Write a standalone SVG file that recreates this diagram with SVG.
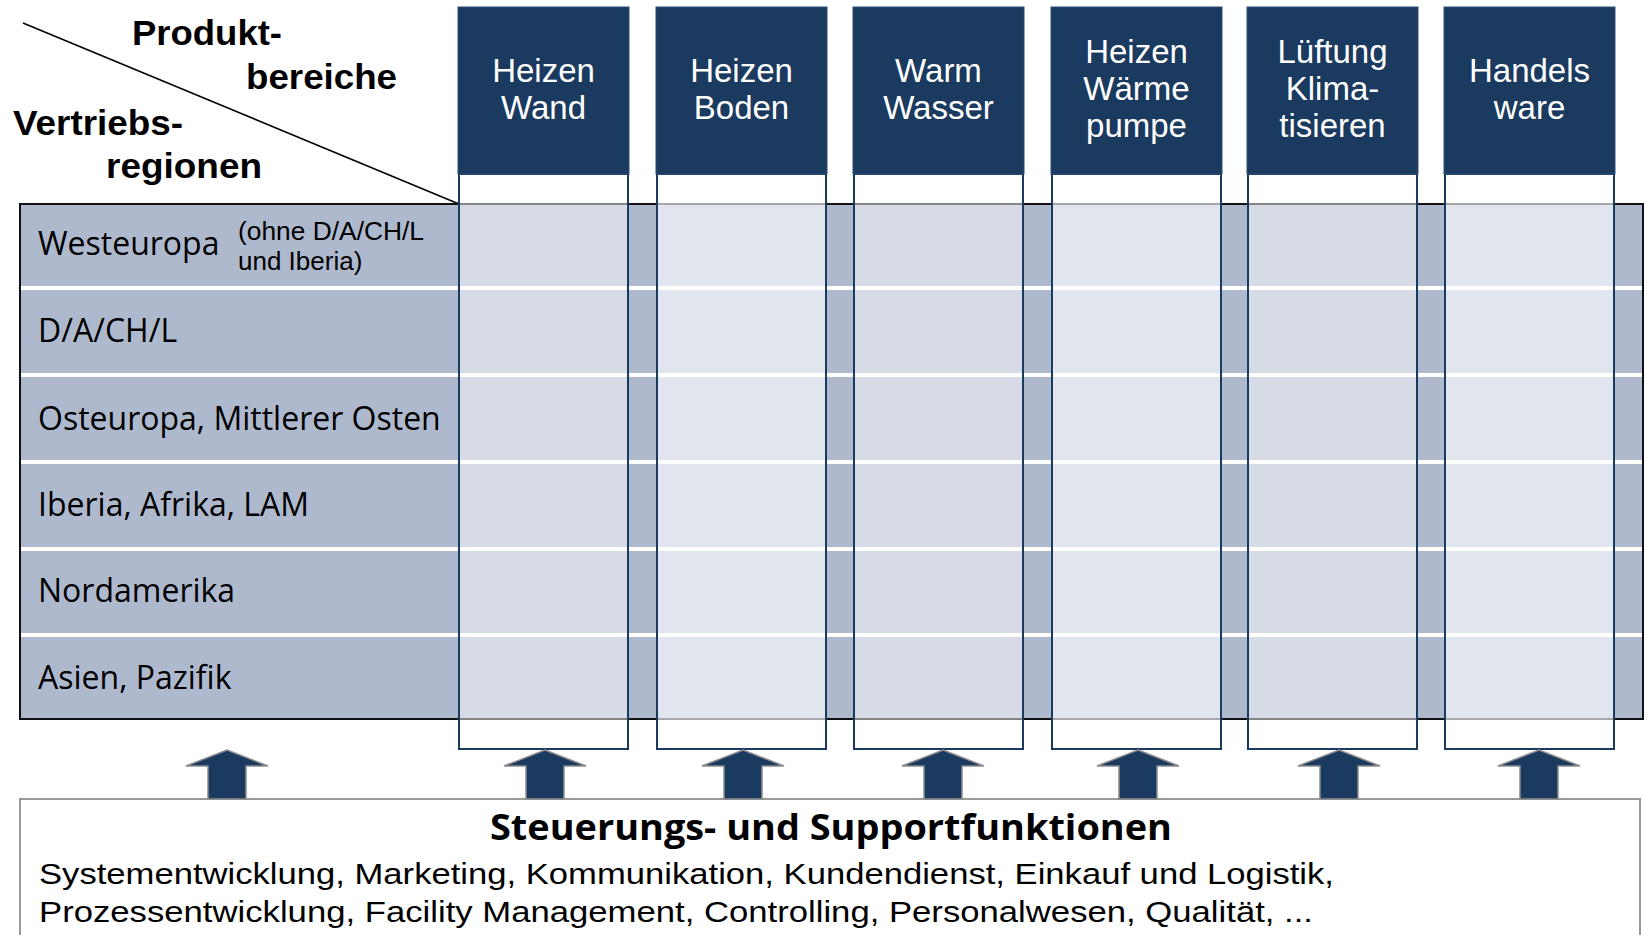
<svg xmlns="http://www.w3.org/2000/svg" width="1645" height="935" viewBox="0 0 1645 935">
<style>
text{font-family:"Open Sans","Liberation Sans",sans-serif;}
.lib{font-family:"Liberation Sans","Open Sans",sans-serif;}
.hd{fill:#1B3A5F;stroke:#2E4F78;stroke-width:1;}
.ht{fill:#ffffff;font-size:33px;text-anchor:middle;font-family:"Liberation Sans",Arial,sans-serif;}
.col{fill:#ffffff;stroke:#1B3A5F;stroke-width:2;}
.odd{fill-opacity:0.49;}
.even{fill-opacity:0.63;}
.rl{fill:#000000;font-size:32px;}
.sep{fill:#ffffff;}
.big{fill:#000000;font-size:35px;font-weight:bold;font-family:"Liberation Sans",Arial,sans-serif;}
.arr{fill:#1B3A5F;stroke:#8C8C8C;stroke-width:1.5;stroke-linejoin:miter;}
.body{fill:#000000;font-size:29px;font-family:"Liberation Sans",Arial,sans-serif;}
</style>
<rect width="1645" height="935" fill="#ffffff"/>

<g id="corner">
<line x1="23" y1="23" x2="459" y2="204" stroke="#000" stroke-width="1.6"/>
<text class="big" x="132" y="45" textLength="150" lengthAdjust="spacingAndGlyphs">Produkt-</text>
<text class="big" x="246" y="89" textLength="151" lengthAdjust="spacingAndGlyphs">bereiche</text>
<text class="big" x="13" y="135" textLength="170" lengthAdjust="spacingAndGlyphs">Vertriebs-</text>
<text class="big" x="106" y="178" textLength="156" lengthAdjust="spacingAndGlyphs">regionen</text>
</g>

<g id="table">
<rect x="20" y="204" width="1623" height="515" fill="#AEB9CE" stroke="#111" stroke-width="2"/>
<rect class="sep" x="21" y="286" width="1621" height="4"/>
<rect class="sep" x="21" y="373" width="1621" height="4"/>
<rect class="sep" x="21" y="460" width="1621" height="4"/>
<rect class="sep" x="21" y="547" width="1621" height="4"/>
<rect class="sep" x="21" y="633" width="1621" height="4"/>
</g>

<g id="regions">
<g id="r1"><text class="rl" x="38" y="255">Westeuropa</text>
<text class="lib" x="238" y="240" font-size="26" fill="#000" textLength="186" lengthAdjust="spacingAndGlyphs">(ohne D/A/CH/L</text>
<text class="lib" x="238" y="270" font-size="26" fill="#000">und Iberia)</text></g>
<g id="r2"><text class="rl" x="38" y="342">D/A/CH/L</text></g>
<g id="r3"><text class="rl" x="38" y="430">Osteuropa, Mittlerer Osten</text></g>
<g id="r4"><text class="rl" x="38" y="516">Iberia, Afrika, LAM</text></g>
<g id="r5"><text class="rl" x="38" y="602">Nordamerika</text></g>
<g id="r6"><text class="rl" x="38" y="689">Asien, Pazifik</text></g>
</g>

<g id="c1">
<rect class="col odd" x="459" y="174" width="169" height="575"/>
<rect class="hd" x="458" y="7" width="171" height="167"/>
<text class="ht" x="543.5" y="82">Heizen</text><text class="ht" x="543.5" y="119">Wand</text>
</g>
<g id="c2">
<rect class="col even" x="657" y="174" width="169" height="575"/>
<rect class="hd" x="656" y="7" width="171" height="167"/>
<text class="ht" x="741.5" y="82">Heizen</text><text class="ht" x="741.5" y="119">Boden</text>
</g>
<g id="c3">
<rect class="col odd" x="854" y="174" width="169" height="575"/>
<rect class="hd" x="853" y="7" width="171" height="167"/>
<text class="ht" x="938.5" y="82">Warm</text><text class="ht" x="938.5" y="119">Wasser</text>
</g>
<g id="c4">
<rect class="col even" x="1052" y="174" width="169" height="575"/>
<rect class="hd" x="1051" y="7" width="171" height="167"/>
<text class="ht" x="1136.5" y="63">Heizen</text><text class="ht" x="1136.5" y="100">Wärme</text><text class="ht" x="1136.5" y="137">pumpe</text>
</g>
<g id="c5">
<rect class="col odd" x="1248" y="174" width="169" height="575"/>
<rect class="hd" x="1247" y="7" width="171" height="167"/>
<text class="ht" x="1332.5" y="63">Lüftung</text><text class="ht" x="1332.5" y="100">Klima-</text><text class="ht" x="1332.5" y="137">tisieren</text>
</g>
<g id="c6">
<rect class="col even" x="1445" y="174" width="169" height="575"/>
<rect class="hd" x="1444" y="7" width="171" height="167"/>
<text class="ht" x="1529.5" y="82">Handels</text><text class="ht" x="1529.5" y="119">ware</text>
</g>

<g id="support">
<rect x="20" y="799" width="1620" height="160" fill="#ffffff" stroke="#999999" stroke-width="2"/>
<text x="831" y="840" font-size="36" font-weight="bold" text-anchor="middle" fill="#000" textLength="682" lengthAdjust="spacingAndGlyphs">Steuerungs- und Supportfunktionen</text>
<text class="body" x="39" y="884" textLength="1295" lengthAdjust="spacingAndGlyphs">Systementwicklung, Marketing, Kommunikation, Kundendienst, Einkauf und Logistik,</text>
<text class="body" x="39" y="922" textLength="1274" lengthAdjust="spacingAndGlyphs">Prozessentwicklung, Facility Management, Controlling, Personalwesen, Qualität, ...</text>
</g>

<g id="connectors">
<polygon class="arr" points="227,750 268,766 246,766 246,799 208,799 208,766 186,766"/>
<polygon class="arr" points="545,750 586,766 564,766 564,799 526,799 526,766 504,766"/>
<polygon class="arr" points="743,750 784,766 762,766 762,799 724,799 724,766 702,766"/>
<polygon class="arr" points="943,750 984,766 962,766 962,799 924,799 924,766 902,766"/>
<polygon class="arr" points="1138,750 1179,766 1157,766 1157,799 1119,799 1119,766 1097,766"/>
<polygon class="arr" points="1339,750 1380,766 1358,766 1358,799 1320,799 1320,766 1298,766"/>
<polygon class="arr" points="1539,750 1580,766 1558,766 1558,799 1520,799 1520,766 1498,766"/>
</g>
</svg>
